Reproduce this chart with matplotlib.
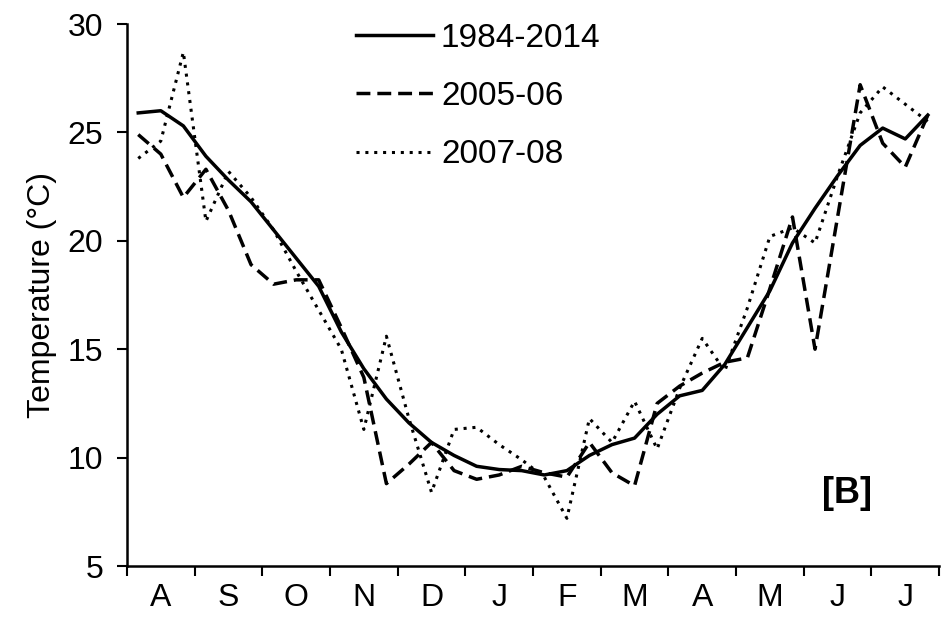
import numpy as np
import matplotlib.pyplot as plt

plt.rcParams['font.family'] = ['Liberation Sans', 'DejaVu Sans']

#%%# data (three values per month, Aug -> Jul)

months = ["A", "S", "O", "N", "D", "J", "F", "M", "A", "M", "J", "J"]

t_mean = [25.9, 26.0, 25.3, 23.9, 22.8, 21.8, 20.5, 19.2, 17.9, 15.8, 14.1, 12.7,
          11.6, 10.7, 10.1, 9.6, 9.45, 9.4, 9.2, 9.4, 10.1, 10.6, 10.9, 12.0,
          12.85, 13.1, 14.3, 16.0, 17.7, 19.9, 21.5, 23.0, 24.4, 25.2, 24.7, 25.8]

t_2005 = [24.9, 24.0, 22.0, 23.3, 21.4, 18.9, 18.0, 18.2, 18.2, 16.0, 13.7, 8.8,
          9.7, 10.7, 9.4, 9.0, 9.2, 9.6, 9.3, 9.1, 10.7, 9.3, 8.7, 12.5,
          13.3, 13.9, 14.4, 14.6, 17.8, 21.1, 15.0, 21.1, 27.2, 24.5, 23.4, 25.8]

t_2007 = [23.8, 24.6, 28.7, 20.9, 23.2, 22.0, 20.5, 18.6, 16.8, 15.0, 11.3, 15.6,
          11.8, 8.4, 11.3, 11.4, 10.6, 9.9, 9.1, 7.2, 11.8, 10.7, 12.6, 10.4,
          13.2, 15.5, 14.0, 16.9, 20.2, 20.6, 19.9, 23.0, 25.9, 27.1, 26.3, 25.5]

labels = ["1984-2014", "2005-06", "2007-08"]

#%%# plot

fig = plt.figure(figsize=(9.51, 6.22), dpi=100)
ax = fig.add_axes([0.1335, 0.09, 0.854, 0.8714])

x = np.arange(len(t_mean)) + 0.5
ax.plot(x, t_mean, color="black", lw=2.5, label=labels[0])
ax.plot(x, t_2005, color="black", lw=2.5, dashes=(4, 2), label=labels[1])
ax.plot(x, t_2007, color="black", lw=2.2, linestyle=(0, (1, 1.9)), label=labels[2])

ax.set_xlim(0, 36)
ax.set_ylim(5, 30)
ax.set_yticks([5, 10, 15, 20, 25, 30])
ax.set_xticks(np.arange(0, 37, 3), minor=False)
ax.set_xticklabels([])
ax.set_xticks(np.arange(1.5, 36, 3), minor=True)
ax.set_xticklabels(months, minor=True)
ax.tick_params(axis="x", which="major", direction="out", length=7, width=1.5)
ax.tick_params(axis="x", which="minor", length=0, labelsize=23, pad=12)
ax.tick_params(axis="y", direction="out", length=7, width=1.5, labelsize=23, pad=10)

for s in ["top", "right"]:
    ax.spines[s].set_visible(False)
for s in ["left", "bottom"]:
    ax.spines[s].set_linewidth(1.8)

ax.set_ylabel("Temperature (\u00b0C)", fontsize=23, labelpad=8)

ax.legend(loc="upper left", bbox_to_anchor=(0.245, 1.058), frameon=False,
          fontsize=24, handlelength=2.3, labelspacing=0.82, handletextpad=0.25)

ax.text(31.9, 7.9, "[B]", fontsize=26, fontweight="bold", ha="center")

fig.savefig("out.png", dpi=100)
